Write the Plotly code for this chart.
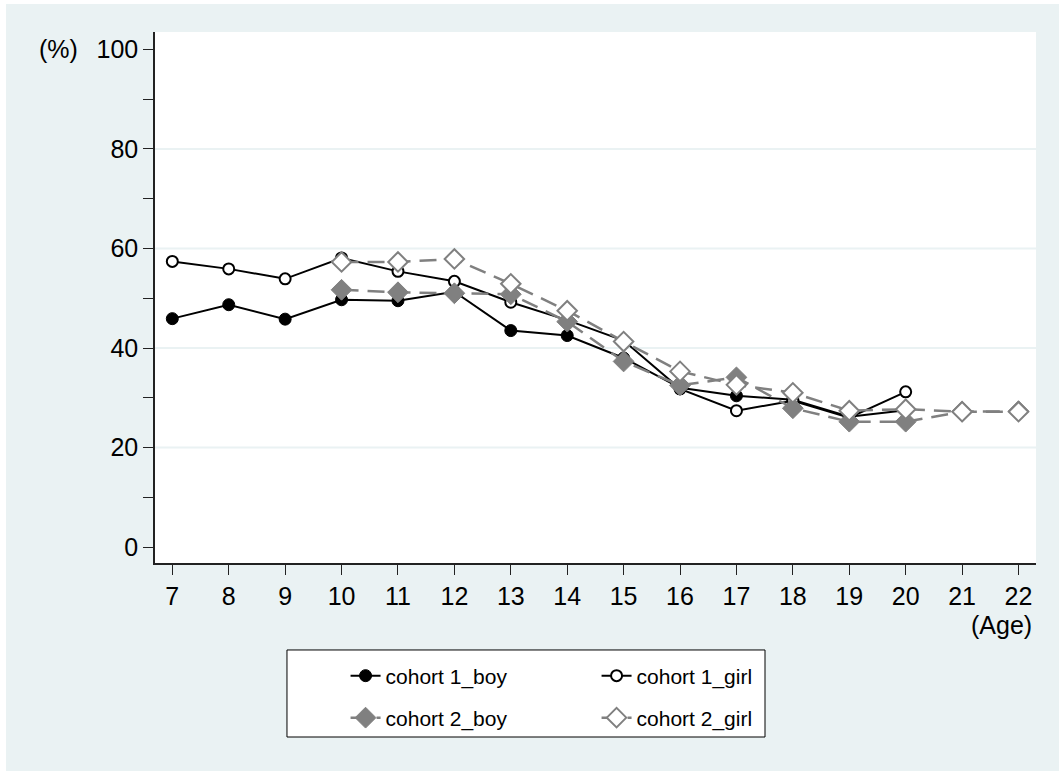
import plotly.graph_objects as go

# Ages on the x axis
ages_c1 = [7, 8, 9, 10, 11, 12, 13, 14, 15, 16, 17, 18, 19, 20]
ages_c2 = [10, 11, 12, 13, 14, 15, 16, 17, 18, 19, 20, 21, 22]

# Percentages by cohort and sex
c1_boy = [45.9, 48.7, 45.8, 49.7, 49.5, 51.3, 43.5, 42.5, 38.0, 32.0, 30.4, 29.6, 26.2, 27.5]
c1_girl = [57.4, 55.9, 53.9, 58.1, 55.4, 53.4, 49.2, 45.6, 41.5, 31.8, 27.4, 29.4, 26.0, 31.2]
c2_boy = [51.7, 51.2, 51.0, 50.8, 45.3, 37.3, 32.5, 34.1, 27.9, 25.2, 25.2, 27.2, 27.3]
c2_girl = [57.3, 57.3, 57.9, 52.9, 47.5, 41.3, 35.3, 32.6, 31.0, 27.4, 27.7, 27.2, 27.2]

y_tick_vals = [0, 20, 40, 60, 80, 100]
y_minor_vals = [10, 30, 50, 70, 90]
x_tick_vals = list(range(7, 23))
grid_vals = [20, 40, 60, 80]

BG = "#EAF2F3"
GRAY = "#808080"
FONT = "Liberation Sans, Arial, sans-serif"
TICK_SIZE = 25

fig = go.Figure()

fig.add_trace(go.Scatter(
    x=ages_c1, y=c1_boy, name="cohort 1_boy", mode="lines+markers",
    line=dict(color="black", width=2),
    marker=dict(symbol="circle", size=12, color="black", line=dict(color="black", width=1)),
    legend="legend",
))
fig.add_trace(go.Scatter(
    x=ages_c1, y=c1_girl, name="cohort 1_girl", mode="lines+markers",
    line=dict(color="black", width=2),
    marker=dict(symbol="circle", size=11, color="white", line=dict(color="black", width=2)),
    legend="legend",
))
fig.add_trace(go.Scatter(
    x=ages_c2, y=c2_boy, name="cohort 2_boy", mode="lines+markers",
    line=dict(color=GRAY, width=2.5, dash="17px,9px"),
    marker=dict(symbol="diamond", size=16, color=GRAY, line=dict(color=GRAY, width=1)),
    legend="legend2",
))
fig.add_trace(go.Scatter(
    x=ages_c2, y=c2_girl, name="cohort 2_girl", mode="lines+markers",
    line=dict(color=GRAY, width=2.5, dash="17px,9px"),
    marker=dict(symbol="diamond", size=15, color="white", line=dict(color=GRAY, width=2)),
    legend="legend2",
))

shapes = []
# light horizontal grid
for g in grid_vals:
    shapes.append(dict(type="line", xref="paper", x0=0, x1=1, yref="y", y0=g, y1=g,
                       line=dict(color=BG, width=2), layer="below"))
# thin white frame strips at the left and top edge of the page
shapes.append(dict(type="rect", xref="paper", yref="paper", x0=-0.2, x1=-0.1691,
                   y0=-0.5, y1=1.2, fillcolor="white", line=dict(width=0), layer="below"))
shapes.append(dict(type="rect", xref="paper", yref="paper", x0=-0.2, x1=1.1,
                   y0=1.0527, y1=1.2, fillcolor="white", line=dict(width=0), layer="below"))
# legend box
shapes.append(dict(type="rect", xref="paper", yref="paper", x0=0.1498, x1=0.6924,
                   y0=-0.3277, y1=-0.1638, fillcolor="white",
                   line=dict(color="black", width=1), layer="below"))

legend_common = dict(
    orientation="h", xanchor="left", yanchor="middle",
    bgcolor="rgba(0,0,0,0)", borderwidth=0,
    font=dict(family=FONT, size=21, color="black"),
    entrywidth=206, entrywidthmode="pixels",
    itemclick=False, itemdoubleclick=False,
)

fig.update_layout(
    width=1059, height=771,
    margin=dict(l=155, r=23, t=32, b=208),
    paper_bgcolor=BG, plot_bgcolor="white",
    font=dict(family=FONT, size=TICK_SIZE, color="black"),
    showlegend=True,
    legend=dict(x=0.2163, y=-0.2128, **legend_common),
    legend2=dict(x=0.2163, y=-0.2919, **legend_common),
    shapes=shapes,
    xaxis=dict(
        range=[6.693, 22.31], tickvals=x_tick_vals, ticks="outside", ticklen=10,
        tickwidth=1.3, tickcolor="#222", showline=True, linecolor="#222", linewidth=1.5,
        showgrid=False, zeroline=False, tickfont=dict(size=TICK_SIZE, family=FONT),
    ),
    yaxis=dict(
        range=[-3.2, 103.5], tickvals=y_tick_vals, ticks="outside", ticklen=10,
        tickwidth=1.3, tickcolor="#222", showline=True, linecolor="#222", linewidth=1.5,
        showgrid=False, zeroline=False, tickfont=dict(size=TICK_SIZE, family=FONT),
        minor=dict(tickvals=y_minor_vals, ticks="outside", ticklen=10, tickwidth=1.3,
                   tickcolor="#222", showgrid=False),
    ),
    annotations=[
        dict(text="(%)", xref="paper", x=0, xanchor="right", xshift=-75,
             yref="y", y=100, yanchor="middle", showarrow=False,
             font=dict(size=TICK_SIZE, family=FONT)),
        dict(text="(Age)", xref="paper", x=1, xanchor="right", xshift=-3,
             yref="paper", y=-0.088, yanchor="top", showarrow=False, borderpad=0,
             font=dict(size=TICK_SIZE, family=FONT)),
    ],
)

fig.write_html("out.html")
